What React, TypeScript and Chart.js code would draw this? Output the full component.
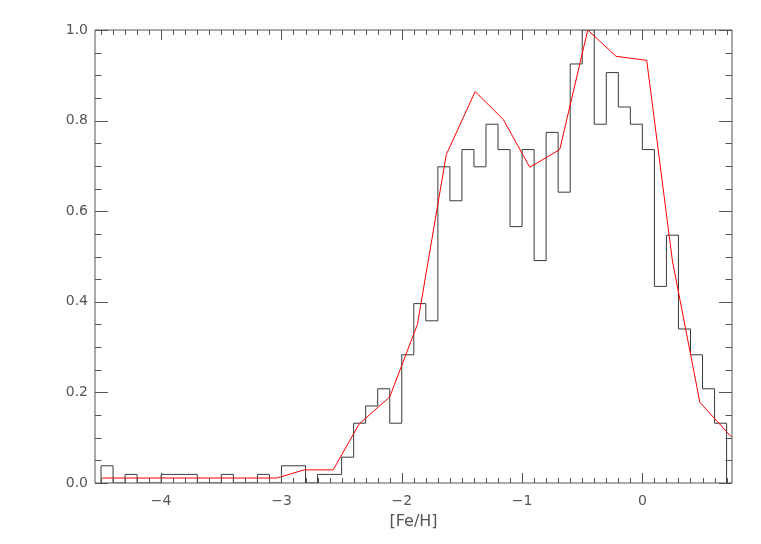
import React, { useEffect, useRef } from 'react';
import { Chart, registerables } from 'chart.js';

Chart.register(...registerables);

// Histogram: left edge of each 0.1-wide bin in [Fe/H]
const binLeftEdges = [
  -4.5, -4.4, -4.3, -4.2, -4.1, -4.0, -3.9, -3.8, -3.7, -3.6,
  -3.5, -3.4, -3.3, -3.2, -3.1, -3.0, -2.9, -2.8, -2.7, -2.6,
  -2.5, -2.4, -2.3, -2.2, -2.1, -2.0, -1.9, -1.8, -1.7, -1.6,
  -1.5, -1.4, -1.3, -1.2, -1.1, -1.0, -0.9, -0.8, -0.7, -0.6,
  -0.5, -0.4, -0.3, -0.2, -0.1, 0.0, 0.1, 0.2, 0.3, 0.4,
  0.5, 0.6,
];
const histEnd = 0.7;
// Normalised histogram heights
const histValues = [
  0.038, 0, 0.019, 0, 0, 0.019, 0.019, 0.019, 0, 0,
  0.019, 0, 0, 0.019, 0, 0.038, 0.038, 0, 0.019, 0.019,
  0.057, 0.132, 0.170, 0.208, 0.132, 0.283, 0.396, 0.358, 0.698, 0.623,
  0.736, 0.698, 0.792, 0.736, 0.566, 0.736, 0.491, 0.774, 0.642, 0.925,
  1.0, 0.792, 0.906, 0.830, 0.792, 0.736, 0.434, 0.547, 0.340, 0.283,
  0.208, 0.132,
];

// Model curve (red)
const modelX = [
  -4.49, -3.28, -3.04, -2.81, -2.57, -2.355, -2.10, -1.87, -1.63, -1.39,
  -1.155, -0.936, -0.687, -0.454, -0.219, 0.036, 0.25, 0.478, 0.742,
];
const modelY = [
  0.011, 0.011, 0.011, 0.029, 0.029, 0.130, 0.190, 0.350, 0.725, 0.864,
  0.802, 0.697, 0.736, 1.0, 0.942, 0.933, 0.49, 0.178, 0.101,
];

const xTickValues = [-4, -3, -2, -1, 0];
const yTickValues = [0, 0.2, 0.4, 0.6, 0.8, 1.0];
const xMin = -4.55;
const xMax = 0.745;
const xTitle = '[Fe/H]';

const FONT = 'DejaVu Sans';

const frameTicks = {
  id: 'frameTicks',
  afterDatasetsDraw(chart: any) {
    const { ctx, chartArea, scales } = chart;
    const xs = scales.x;
    const ys = scales.y;
    const L = Math.round(chartArea.left);
    const R = Math.round(chartArea.right);
    const T = Math.round(chartArea.top);
    const B = Math.round(chartArea.bottom);
    ctx.save();
    ctx.strokeStyle = '#555';
    ctx.lineWidth = 1;
    ctx.beginPath();
    ctx.rect(L, T, R - L, B - T);
    for (let i = Math.ceil(xs.min * 10); i <= Math.floor(xs.max * 10); i++) {
      const px = Math.round(xs.getPixelForValue(i / 10)) + 0.5;
      const len = i % 10 === 0 ? 10 : 5;
      ctx.moveTo(px, B);
      ctx.lineTo(px, B - len);
      ctx.moveTo(px, T);
      ctx.lineTo(px, T + len);
    }
    for (let j = 0; j <= 20; j++) {
      const py = Math.round(ys.getPixelForValue(j * 0.05)) + 0.5;
      const len = j % 4 === 0 ? 13 : 6.5;
      ctx.moveTo(L, py);
      ctx.lineTo(L + len, py);
      ctx.moveTo(R, py);
      ctx.lineTo(R - len, py);
    }
    ctx.stroke();
    ctx.restore();
  },
};

export default function App() {
  const canvasRef = useRef<HTMLCanvasElement | null>(null);

  useEffect(() => {
    const canvas = canvasRef.current;
    if (!canvas) return;
    const histPoints = [
      { x: binLeftEdges[0], y: 0 },
      ...binLeftEdges.map((e, i) => ({ x: e, y: histValues[i] })),
      { x: histEnd, y: 0 },
    ];
    const modelPoints = modelX.map((x, i) => ({ x, y: modelY[i] }));

    const chart = new Chart(canvas, {
      type: 'line',
      data: {
        datasets: [
          {
            data: histPoints,
            stepped: 'before',
            borderColor: '#3a3a3a',
            borderWidth: 1,
            pointRadius: 0,
            fill: false,
            order: 2,
          },
          {
            data: modelPoints,
            borderColor: '#ff0000',
            borderWidth: 1,
            pointRadius: 0,
            fill: false,
            tension: 0,
            order: 1,
          },
        ],
      },
      options: {
        animation: false,
        responsive: false,
        maintainAspectRatio: false,
        layout: { padding: { top: 30, right: 29, left: 0, bottom: 0 } },
        plugins: {
          legend: { display: false },
          tooltip: { enabled: false },
        },
        scales: {
          x: {
            type: 'linear',
            min: xMin,
            max: xMax,
            grid: { display: false, drawTicks: false },
            border: { display: false },
            afterBuildTicks: (scale: any) => {
              scale.ticks = xTickValues.map((v) => ({ value: v }));
            },
            afterFit: (scale: any) => {
              scale.height = 61;
            },
            ticks: {
              padding: 10,
              color: '#555',
              font: { family: FONT, size: 14 },
              callback: (v: any) => {
                const n = Number(v);
                return n < 0 ? '\u2212' + Math.abs(n) : String(n);
              },
            },
            title: {
              display: true,
              text: xTitle,
              color: '#555',
              font: { family: FONT, size: 16 },
              padding: { top: 0, bottom: 13 },
            },
          },
          y: {
            type: 'linear',
            min: 0,
            max: 1,
            grid: { display: false, drawTicks: false },
            border: { display: false },
            afterBuildTicks: (scale: any) => {
              scale.ticks = yTickValues.map((v) => ({ value: v }));
            },
            afterFit: (scale: any) => {
              scale.width = 95;
            },
            ticks: {
              padding: 7,
              color: '#555',
              font: { family: FONT, size: 14 },
              callback: (v: any) => Number(v).toFixed(1),
            },
          },
        },
      },
      plugins: [frameTicks],
    });
    return () => chart.destroy();
  }, []);

  return (
    <div style={{ position: 'absolute', left: 0, top: 0, width: 761, height: 544, background: '#fff' }}>
      <canvas ref={canvasRef} width={761} height={544} />
    </div>
  );
}
